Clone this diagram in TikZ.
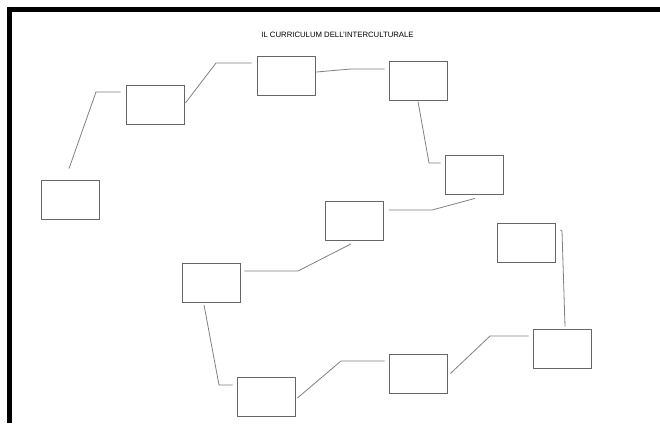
\documentclass[tikz,border=0pt]{standalone}
\usepackage{fontspec}
\setmainfont{Liberation Sans}
\usepackage{xcolor}
\usetikzlibrary{positioning}

\begin{document}
\begin{tikzpicture}[
    x=1pt, y=-1pt,
    box/.style={rectangle, draw=black!60, line width=0.8pt, minimum width=58pt,
                minimum height=39pt, inner sep=0pt},
    link/.style={draw=black!50, line width=0.8pt},
]
\useasboundingbox (0,0) rectangle (660,423);
\draw[line width=5pt, miter limit=10] (9.5,423) -- (9.5,9.5) -- (660,9.5);
\node[font=\fontsize{7.75}{9}\selectfont] (title) at (337.5,34.5) {IL CURRICULUM DELL'INTERCULTURALE};
% the boxes
\node[box] (a) at (70,199.5)  {};
\node[box] (b) at (155,104.5) {};
\node[box] (c) at (286,75.5)  {};
\node[box] (d) at (418,80.5)  {};
\node[box] (e) at (474,174.5) {};
\node[box] (f) at (354.5,221) {};
\node[box] (g) at (526,243)   {};
\node[box] (h) at (211,283)   {};
\node[box] (i) at (266.5,397) {};
\node[box] (j) at (418,373.5) {};
\node[box] (k) at (562,348.5) {};
% the links
\draw[link] ([shift={(-1,-11)}]a.north) -- (96,92) -- ([shift={(-5,-12.5)}]b.west);
\draw[link] ([shift={(1,-1.5)}]b.east) -- (216,63) -- ([shift={(-5,-12.5)}]c.west);
\draw[link] ([shift={(1,-3.5)}]c.east) -- (351,69) -- ([shift={(-4,-11.5)}]d.west);
\draw[link] ([shift={(0,1)}]d.south) -- (429,163) -- ([shift={(-4,-11.5)}]e.west);
\draw[link] ([shift={(1,4)}]e.south) -- (432,210) -- ([shift={(5,-11)}]f.east);
\draw[link] ([shift={(-3.5,3)}]f.south) -- (298,271) -- ([shift={(4,-12)}]h.east);
\draw[link] ([shift={(-7,2)}]h.south) -- (219,385) -- ([shift={(-4.5,-12)}]i.west);
\draw[link] ([shift={(1.5,1)}]i.east) -- (341,361) -- ([shift={(-4,-12.5)}]j.west);
\draw[link] ([shift={(3,0)}]j.east) -- (490,336) -- ([shift={(-4,-12.5)}]k.west);
\draw[link] ([shift={(3,-2)}]k.north) -- (562,231) -- ([shift={(5,-13)}]g.east);
\end{tikzpicture}
\end{document}
